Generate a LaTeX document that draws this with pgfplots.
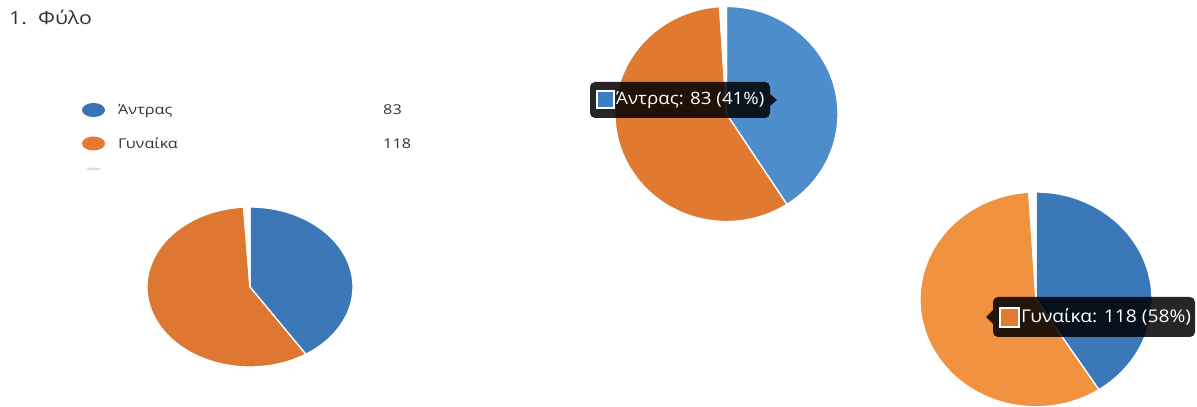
\documentclass[border=0pt]{standalone}
\usepackage{fontspec}
\setmainfont{Open Sans}
\usepackage{pgfplots}
\usepackage{pgfplotstable}
\pgfplotsset{compat=1.18}

\definecolor{legblue}{HTML}{3A72B6}
\definecolor{legorange}{HTML}{E67A33}
\definecolor{pAblue}{HTML}{3C77B7}
\definecolor{pAorange}{HTML}{DD7731}
\definecolor{pBblue}{HTML}{4D8DCC}
\definecolor{pBorange}{HTML}{DF7A30}
\definecolor{pCblue}{HTML}{3B78B8}
\definecolor{pCorange}{HTML}{F0923F}
\definecolor{swblue}{HTML}{3E7DC2}
\definecolor{sworange}{HTML}{E07B30}
\definecolor{txt}{HTML}{333333}

% responses: Άντρας, Γυναίκα, (blank)
\pgfplotstableread{
label value
Antras 83
Gynaika 118
Blank 2
}\gender

\pgfplotstablegetelem{0}{value}\of\gender \let\vA\pgfplotsretval
\pgfplotstablegetelem{1}{value}\of\gender \let\vB\pgfplotsretval
\pgfplotstablegetelem{2}{value}\of\gender \let\vC\pgfplotsretval
\pgfmathsetmacro{\tot}{\vA+\vB+\vC}
\pgfmathsetmacro{\aA}{90}
\pgfmathsetmacro{\aB}{90-360*(\vA/\tot)}
\pgfmathsetmacro{\aC}{\aB-360*(\vB/\tot)}
\pgfmathsetmacro{\aD}{\aC-360*(\vC/\tot)}

\newcommand{\pieslice}[5]{%
  \filldraw[fill=#1, draw=white, line width=1.3pt, line join=round]
    (axis cs:0,0) -- (axis cs:{cos(#2)},{sin(#2)})
    arc[start angle=#2, end angle=#3, x radius=#4, y radius=#5] -- cycle;}

\newcommand{\pie}[6]{% x, y, rx, ry, blue, orange
  \begin{axis}[at={(#1,#2)}, anchor=center, hide axis, scale only axis,
      width=2*#3, height=2*#4, xmin=-1, xmax=1, ymin=-1, ymax=1, clip=false]
    \pieslice{#5}{\aA}{\aB}{#3}{#4}
    \pieslice{#6}{\aB}{\aC}{#3}{#4}
    \pieslice{white}{\aC}{\aD}{#3}{#4}
  \end{axis}}

\tikzset{leg/.style={anchor=base west, inner sep=0pt, text=txt, xscale=1.2,
  font=\fontsize{13.5}{13.5}\selectfont}}

\begin{document}
\begin{tikzpicture}
\path[use as bounding box, fill=white] (0,0) rectangle (1197pt,407pt);

% title
\node[anchor=base west, inner sep=0pt, text=txt, xscale=1.18, font=\fontsize{18}{18}\selectfont] at (9pt,382pt) {1.\ \ Φύλο};

% legend
\fill[legblue] (93.5pt,297pt) ellipse [x radius=11.5pt, y radius=7pt];
\fill[legorange] (93.5pt,263.5pt) ellipse [x radius=11.5pt, y radius=7pt];
\fill[gray!25] (93.5pt,238pt) ellipse [x radius=7pt, y radius=1.4pt];
\node[leg] at (118pt,292pt) {Άντρας};
\node[leg] at (118pt,258pt) {Γυναίκα};
\node[leg] at (383pt,292pt) {83};
\node[leg] at (383pt,258pt) {118};

% pies
\pie{250pt}{120pt}{103pt}{80pt}{pAblue}{pAorange}
\pie{726.5pt}{293pt}{111.5pt}{107.5pt}{pBblue}{pBorange}
\pie{1036pt}{107.6pt}{116pt}{107.4pt}{pCblue}{pCorange}

% tooltip 1
\fill[black, opacity=0.85, rounded corners=5pt] (590pt,325pt) rectangle (770pt,289pt);
\fill[black, opacity=0.85] (770pt,313pt) -- (777pt,307pt) -- (770pt,301pt) -- cycle;
\filldraw[fill=swblue, draw=white, line width=1.3pt] (597pt,316pt) rectangle (614pt,299pt);
\node[anchor=west, inner sep=0pt, text=white, xscale=1.1, font=\fontsize{17}{17}\selectfont] at (616pt,307pt) {Άντρας: 83 (41\%)};

% tooltip 2
\fill[black, opacity=0.85, rounded corners=5pt] (993pt,110pt) rectangle (1195pt,70pt);
\fill[black, opacity=0.85] (993pt,97pt) -- (986pt,90pt) -- (993pt,83pt) -- cycle;
\filldraw[fill=sworange, draw=white, line width=1.3pt] (1000pt,99pt) rectangle (1019pt,80pt);
\node[anchor=west, inner sep=0pt, text=white, xscale=1.1, font=\fontsize{17.5}{17.5}\selectfont] at (1021pt,90pt) {Γυναίκα: 118 (58\%)};
\end{tikzpicture}
\end{document}
